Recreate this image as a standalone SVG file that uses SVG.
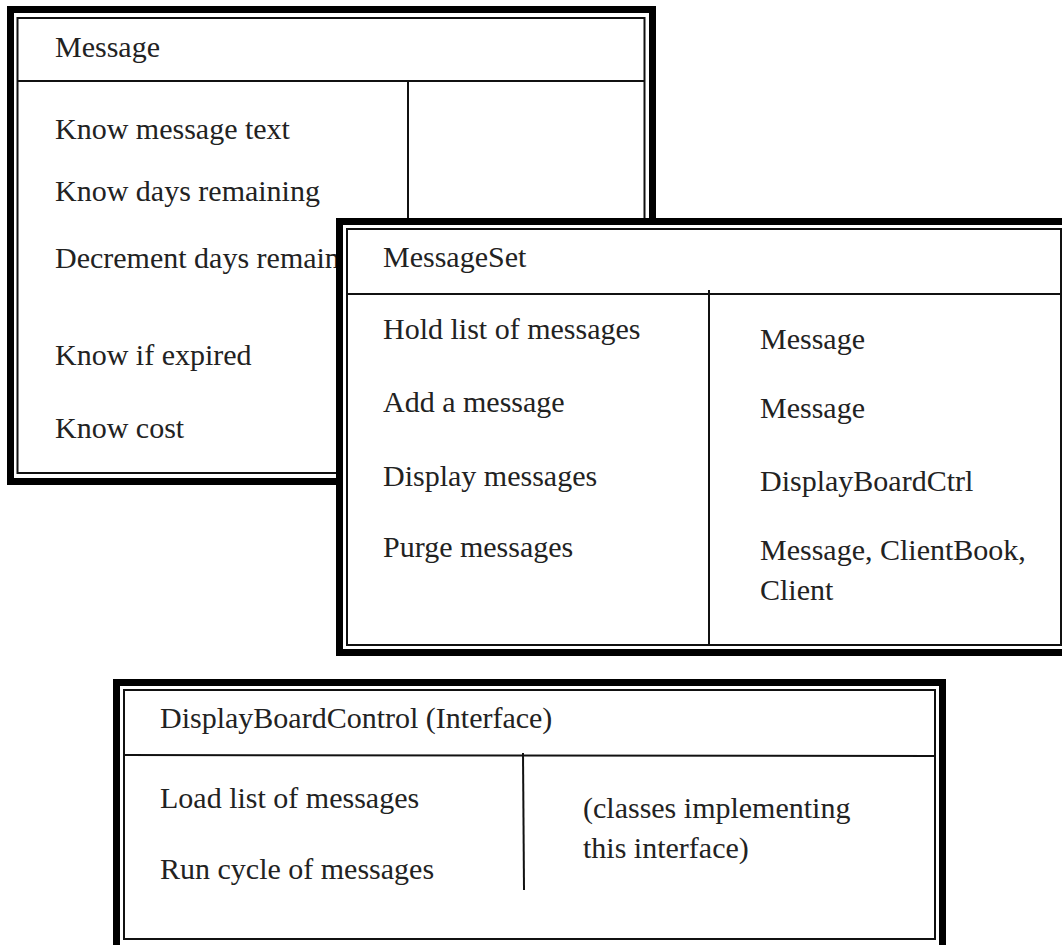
<svg xmlns="http://www.w3.org/2000/svg" width="1062" height="945" viewBox="0 0 1062 945">
<style>
.outer{fill:#fff;stroke:#000;stroke-width:7}
.inner{fill:none;stroke:#111;stroke-width:2}
.line{stroke:#111;stroke-width:2;fill:none}
text{font-family:"Liberation Serif","Times New Roman",serif;font-size:30px;fill:#222}
</style>
<rect width="1062" height="945" fill="#fff"/>
<g id="message">
<rect class="outer" x="10.5" y="9.5" width="642" height="472"/>
<rect class="inner" x="17.5" y="18" width="627" height="455"/>
<line class="line" x1="17.5" y1="81" x2="644.5" y2="81"/>
<line class="line" x1="408" y1="81" x2="408" y2="230"/>
<text x="55" y="57">Message</text>
<text x="55" y="139">Know message text</text>
<text x="55" y="201">Know days remaining</text>
<text x="55" y="268">Decrement days remaining</text>
<text x="55" y="365">Know if expired</text>
<text x="55" y="438">Know cost</text>
</g>
<g id="messageset">
<rect class="outer" x="339.5" y="221.5" width="740" height="431"/>
<rect class="inner" x="347" y="229" width="714" height="416"/>
<line class="line" x1="347" y1="294" x2="1061" y2="294"/>
<line class="line" x1="709" y1="290" x2="709" y2="645"/>
<text x="383" y="267">MessageSet</text>
<text x="383" y="339">Hold list of messages</text>
<text x="383" y="412">Add a message</text>
<text x="383" y="486">Display messages</text>
<text x="383" y="557">Purge messages</text>
<text x="760" y="349">Message</text>
<text x="760" y="418">Message</text>
<text x="760" y="491">DisplayBoardCtrl</text>
<text x="760" y="560">Message, ClientBook,</text>
<text x="760" y="600">Client</text>
</g>
<g id="displayboardcontrol">
<rect class="outer" x="116.5" y="682.5" width="826" height="266"/>
<rect class="inner" x="124" y="690" width="811" height="249"/>
<line class="line" x1="124" y1="755" x2="935" y2="756"/>
<line class="line" x1="523" y1="753" x2="524" y2="890"/>
<text x="160" y="728">DisplayBoardControl (Interface)</text>
<text x="160" y="808">Load list of messages</text>
<text x="160" y="879">Run cycle of messages</text>
<text x="583" y="818">(classes implementing</text>
<text x="583" y="858">this interface)</text>
</g>
<g id="connectors"></g>
</svg>
